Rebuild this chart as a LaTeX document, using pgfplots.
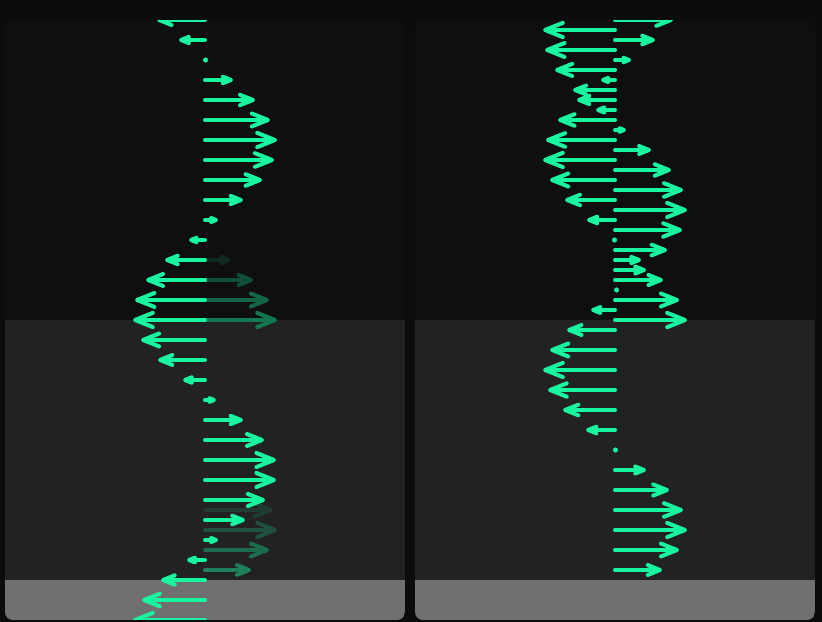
\documentclass[border=0pt]{standalone}
\usepackage{pgfplots}
\pgfplotsset{compat=1.18}
\usepackage{pgfplotstable}
\usetikzlibrary{arrows.meta}
\definecolor{outer}{HTML}{0B0C0E}
\definecolor{bandA}{HTML}{0F0F0F}
\definecolor{bandB}{HTML}{222222}
\definecolor{bandC}{HTML}{707070}
\definecolor{mint}{HTML}{18F4A0}

\pgfplotstableread{
y u
20 -48
40 -26
80 28
100 50
120 65
140 72
160 69
180 57
200 38
220 13
240 -16
260 -40
280 -59
300 -70
320 -72
340 -64
360 -47
380 -22
400 11
420 38
440 59
460 71
480 71
500 60
520 40
540 13
560 -18
580 -44
600 -63
620 -72
}\leftmain

\pgfplotstableread{
y u
20 58
30 -72
40 40
50 -70
60 16
70 -60
80 -14
90 -42
100 -38
110 -19
120 -57
130 11
140 -69
150 36
160 -72
170 56
180 -65
190 68
200 -50
210 72
220 -28
230 67
250 52
260 26
270 31
280 48
300 64
310 -24
320 72
330 -48
350 -65
370 -72
390 -67
410 -52
430 -29
470 31
490 54
510 68
530 72
550 64
570 47
}\rightmain

\pgfplotsset{
  arr/.style={mint, line width=4bp, line cap=round,
    point meta={2+0.22*abs(\thisrow{u})},
    quiver={u=\thisrow{u}, v=0,
      every arrow/.append style={
        /utils/exec={\pgfmathsetmacro\myhw{0.8*\pgfplotspointmetatransformed}},
        -{Straight Barb[round,length=\pgfplotspointmetatransformed bp,width=\myhw bp]}}}},
  ghost/.style n args={3}{line width=4bp, line cap=round, color=#1,
    -{Straight Barb[round,length=#2bp,width=#3bp]}},
}

\begin{document}
\begin{tikzpicture}[x=1bp,y=1bp]
\useasboundingbox (0,0) rectangle (822,622);
\fill[outer] (0,0) rectangle (822,622);
\foreach \xa/\xb in {5/405,415/815}{
  \begin{scope}
    \clip[rounded corners=8] (\xa,2) rectangle (\xb,602);
    \fill[bandA] (\xa,2) rectangle (\xb,602);
    \fill[bandB] (\xa,42) rectangle (\xb,302);
    \fill[bandC] (\xa,2) rectangle (\xb,42);
  \end{scope}
}
\begin{axis}[at={(0,0)}, anchor=south west, scale only axis,
  width=822bp, height=622bp, xmin=0, xmax=822, ymin=0, ymax=622,
  y dir=reverse, hide axis, clip=false,
  point meta min=0, point meta max=1000]
% ghost (trailing) arrows, left panel
\addplot[ghost={mint!12!bandA}{7.7}{6.2}] coordinates {(205,260) (231,260)};
\addplot[ghost={mint!28!bandA}{12.6}{10.1}] coordinates {(205,280) (253,280)};
\addplot[ghost={mint!38!bandA}{16.1}{12.9}] coordinates {(205,300) (269,300)};
\addplot[ghost={mint!46!bandA}{17.8}{14.2}] coordinates {(205,320) (277,320)};
\addplot[ghost={mint!12!bandB}{17.0}{13.6}] coordinates {(205,510) (273,510)};
\addplot[ghost={mint!22!bandB}{17.8}{14.2}] coordinates {(205,530) (277,530)};
\addplot[ghost={mint!35!bandB}{16.1}{12.9}] coordinates {(205,550) (269,550)};
\addplot[ghost={mint!45!bandB}{12.1}{9.7}] coordinates {(205,570) (251,570)};
% main arrows
\addplot[arr] table[x expr=205, y=y] {\leftmain};
\addplot[arr] table[x expr=615, y=y] {\rightmain};
% zero-length vectors (dots)
\addplot[only marks, mark=*, mark size=2.3bp, mint, mark options={draw=none}]
  coordinates {(205.5,60) (614.5,240) (616.5,290) (615.5,450)};
\end{axis}
\fill[outer] (0,602) rectangle (822,622);
\fill[outer] (0,0) rectangle (822,2);
\end{tikzpicture}
\end{document}
